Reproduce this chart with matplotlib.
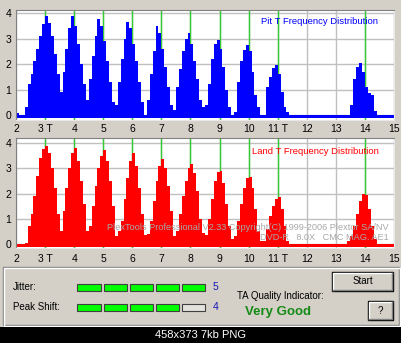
import numpy as np
import matplotlib.pyplot as plt
from matplotlib.patches import Rectangle

plt.rcParams['font.family'] = ['Liberation Sans', 'DejaVu Sans']

W, H = 402, 343

# histogram bins, 0.1 T wide, from 2 T to 15 T (log10 counts)
bin_edges = np.round(np.arange(2.0, 15.05, 0.1), 2)

pit_counts = [
    0.08, 0.0, 0.0, 0.3, 1.2, 1.6, 2.1, 2.6, 3.1, 3.55,   # 2.0 - 2.9
    3.87, 3.6, 3.1, 2.4, 1.6, 0.9, 1.7, 2.6, 3.4, 3.88,   # 3.0 - 3.9
    3.5, 2.8, 2.0, 1.2, 0.6, 1.4, 2.3, 3.1, 3.77, 3.5,    # 4.0 - 4.9
    2.9, 2.1, 1.3, 0.5, 0.4, 1.3, 2.2, 3.0, 3.63, 3.4,    # 5.0 - 5.9
    2.8, 2.1, 1.3, 0.5, 0.0, 0.6, 1.6, 2.5, 3.48, 3.2,    # 6.0 - 6.9
    2.6, 1.9, 1.1, 0.4, 0.2, 1.1, 1.8, 2.5, 3.0, 3.23,    # 7.0 - 7.9
    2.8, 2.1, 1.4, 0.6, 0.3, 0.4, 1.2, 2.2, 2.8, 2.95,    # 8.0 - 8.9
    2.6, 1.9, 1.0, 0.3, 0.0, 0.1, 1.3, 2.1, 2.55, 2.73,   # 9.0 - 9.9
    2.5, 1.7, 0.8, 0.3, 0.0, 0.0, 1.1, 1.5, 1.85, 1.96,   # 10.0 - 10.9
    1.6, 0.9, 0.3, 0.1, 0.0, 0.0, 0.0, 0.0, 0.0, 0.0,     # 11.0 - 11.9
    0.0, 0.0, 0.0, 0.0, 0.0, 0.0, 0.0, 0.0, 0.0, 0.0,     # 12.0 - 12.9
    0.0, 0.0, 0.0, 0.0, 0.0, 0.4, 1.4, 1.9, 2.04, 1.7,    # 13.0 - 13.9
    1.1, 0.85, 0.8, 0.15, 0.0, 0.0, 0.0, 0.0, 0.0, 0.0,   # 14.0 - 14.9
]

land_counts = [
    0.0, 0.0, 0.0, 0.05, 0.7, 1.2, 1.9, 2.7, 3.4, 3.75,   # 2.0 - 2.9
    3.9, 3.6, 3.0, 2.2, 1.2, 0.5, 1.3, 2.2, 3.0, 3.6,     # 3.0 - 3.9
    3.82, 3.3, 2.5, 1.6, 0.5, 0.7, 1.5, 2.3, 3.0, 3.5,    # 4.0 - 4.9
    3.73, 3.3, 2.5, 1.5, 0.3, 0.5, 0.9, 1.8, 2.6, 3.3,    # 5.0 - 5.9
    3.59, 3.1, 2.2, 1.2, 0.35, 0.4, 0.9, 1.7, 2.5, 3.1,   # 6.0 - 6.9
    3.36, 3.0, 2.3, 1.3, 0.3, 0.5, 1.2, 1.9, 2.5, 3.0,    # 7.0 - 7.9
    3.16, 2.8, 2.1, 1.0, 0.45, 0.35, 1.0, 1.8, 2.5, 2.85, # 8.0 - 8.9
    2.9, 2.4, 1.6, 0.7, 0.2, 0.3, 0.9, 1.6, 2.2, 2.6,     # 9.0 - 9.9
    2.65, 2.2, 1.4, 0.5, 0.1, 0.1, 0.6, 1.1, 1.5, 1.8,    # 10.0 - 10.9
    1.88, 1.4, 0.7, 0.1, 0.0, 0.0, 0.0, 0.0, 0.0, 0.0,    # 11.0 - 11.9
    0.0, 0.0, 0.0, 0.0, 0.0, 0.0, 0.0, 0.0, 0.0, 0.0,     # 12.0 - 12.9
    0.0, 0.0, 0.0, 0.0, 0.1, 0.3, 0.7, 1.2, 1.7, 2.0,     # 13.0 - 13.9
    1.95, 1.4, 0.7, 0.2, 0.0, 0.0, 0.0, 0.0, 0.0, 0.0,    # 14.0 - 14.9
]

nominal_T = [3, 4, 5, 6, 7, 8, 9, 10, 11, 14]
x_ticks = list(range(2, 16))
x_labels = ['2', '3 T', '4', '5', '6', '7', '8', '9', '10', '11 T',
            '12', '13', '14', '15']
y_ticks = [0, 1, 2, 3, 4]

jitter_level = 5
peak_shift_level = 4
meter_segments = 5
quality_text = 'Very Good'

fig = plt.figure(figsize=(W / 100, H / 100), dpi=100)
fig.patch.set_facecolor('#D4D0C8')

# pixel-space canvas for the dialog chrome
bg = fig.add_axes([0, 0, 1, 1], zorder=0)
bg.set_xlim(0, W)
bg.set_ylim(H, 0)
bg.axis('off')


def px_axes(x0, y0, x1, y1):
    return fig.add_axes([x0 / W, 1 - y1 / H, (x1 - x0) / W, (y1 - y0) / H],
                        zorder=2)


def histogram(ax, counts, color, ylim, pad):
    ax.set_facecolor('white')
    ax.set_xlim(2, 15)
    ax.set_ylim(*ylim)
    ax.set_xticks(x_ticks)
    ax.set_xticklabels(x_labels)
    ax.set_yticks(y_ticks)
    ax.grid(color='#C0C0C0', lw=1)
    ax.set_axisbelow(True)
    ax.vlines(nominal_T, ylim[0], ylim[1], color='#33CC33', lw=1, zorder=1)
    heights = np.append(counts, counts[-1])
    ax.fill_between(bin_edges, heights, -0.1, step='post', color=color,
                    lw=0, zorder=2)
    ax.tick_params(length=0, labelsize=7.5, colors='black')
    ax.tick_params(axis='x', pad=pad)
    ax.tick_params(axis='y', pad=3.5)
    for side in ['top', 'left']:
        ax.spines[side].set_color('#808080')
    for side in ['bottom', 'right']:
        ax.spines[side].set_color('#E8E8E8')


ax_pit = px_axes(16, 10, 394, 120)
histogram(ax_pit, pit_counts, '#0000FF', (-0.196, 4.118), 3.2)
ax_land = px_axes(16, 138, 394, 248)
histogram(ax_land, land_counts, '#FF0000', (-0.158, 4.198), 4.5)

ax_pit.text(378, 22, 'Pit T Frequency Distribution', color='#0000FF',
            fontsize=6.8, ha='right', va='center', transform=bg.transData)
ax_land.text(379, 152, 'Land T Frequency Distribution', color='#FF0000',
             fontsize=6.8, ha='right', va='center', transform=bg.transData)
ax_land.text(389, 227,
             'PlexTools Professional V2.33 Copyright(C) 1999-2006 Plextor SA/NV',
             color='#A8A8A8', fontsize=6.6, ha='right', va='center',
             transform=bg.transData, zorder=5)
ax_land.text(389, 238, 'DVD-R   8.0X   CMC MAG. AE1',
             color='#A8A8A8', fontsize=6.6, ha='right', va='center',
             transform=bg.transData, zorder=5)

# group box of the lower panel
bg.add_patch(Rectangle((3.5, 266.5), 396, 58, fill=False, ec='#808080', lw=1))
bg.add_patch(Rectangle((4.5, 267.5), 396, 58, fill=False, ec='white', lw=1))

bg.text(13, 287, 'Jitter:', fontsize=7, va='center')
bg.text(13, 307, 'Peak Shift:', fontsize=7, va='center')


def meter(y, level):
    for i in range(meter_segments):
        face = '#00FF00' if i < level else '#E4E2DC'
        bg.add_patch(Rectangle((77.5 + i * 26.2, y), 23.2, 7.5, fc=face,
                               ec='#404040', lw=0.8))
    bg.text(213, y + 3.8, str(level), color='#1818B8', fontsize=7.5,
            va='center')


meter(283.5, jitter_level)
meter(303.5, peak_shift_level)

bg.text(237, 296, 'TA Quality Indicator:', fontsize=7, va='center')
bg.text(278.5, 311.5, quality_text, color='#158A15', fontsize=9.5,
        fontweight='bold', ha='center', va='center')


def button(x, y, w, h, label):
    bg.add_patch(Rectangle((x, y), w, h, fc='#D4D0C8', ec='black', lw=1))
    bg.plot([x + 1, x + 1, x + w - 1], [y + h - 1, y + 1, y + 1],
            color='white', lw=1)
    bg.plot([x + 1, x + w - 1, x + w - 1], [y + h - 1, y + h - 1, y + 1],
            color='#808080', lw=1)
    bg.text(x + w / 2, y + h / 2, label, fontsize=7, ha='center',
            va='center')


button(332, 272, 61, 19, 'Start')
button(368, 301, 25, 19, '?')

# caption strip
bg.add_patch(Rectangle((0, 326.5), W, H - 326.5, fc='black', ec='none'))
bg.text(201, 335, '458x373 7kb PNG', color='white', fontsize=8,
        ha='center', va='center')

fig.savefig('out.png', dpi=100, facecolor=fig.get_facecolor())
